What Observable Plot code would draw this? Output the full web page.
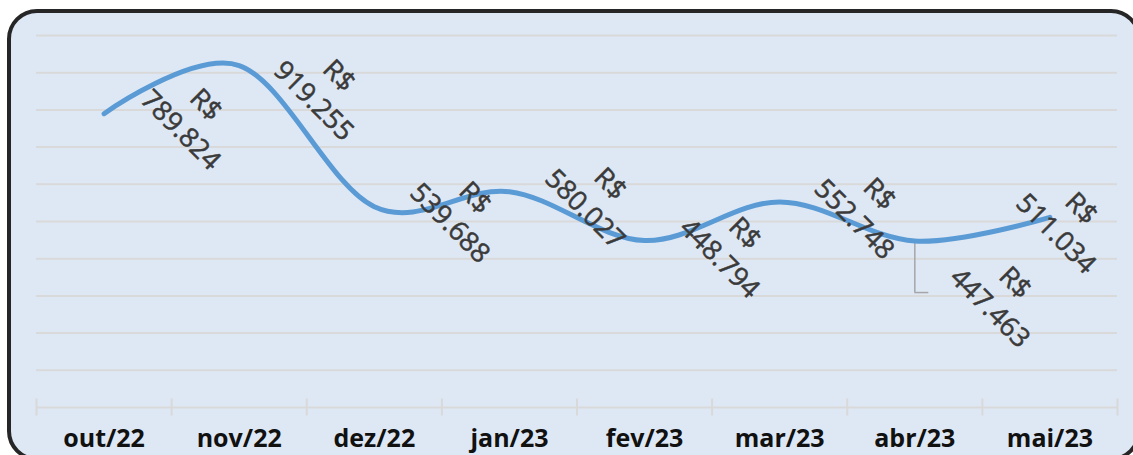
<!DOCTYPE html>
<html><head><meta charset="utf-8">
<script src="https://cdn.jsdelivr.net/npm/d3@7"></script>
<script src="https://cdn.jsdelivr.net/npm/@observablehq/plot@0.6"></script>
<style>
html,body{margin:0;padding:0;background:#fff;width:1133px;height:455px;overflow:hidden;}
#frame{position:absolute;left:7px;top:9px;width:1134px;height:452px;box-sizing:border-box;border:4.5px solid #262626;border-radius:30px;background:#dee8f5;}
#chart{position:absolute;left:0;top:0;}
</style></head><body>
<div id="frame"></div><div id="chart"></div>
<script>
// Data
const months = ["out/22","nov/22","dez/22","jan/23","fev/23","mar/23","abr/23","mai/23"];
const values = [789824, 919255, 539688, 580027, 448794, 552748, 447463, 511034];
const yTicks = [100000,200000,300000,400000,500000,600000,700000,800000,900000,1000000];

// Layout (label offsets in pixels from each point)
const labelOffsets = [[91,2],[89,21],[90,2],[90,3],[89.5,3.5],[89,3],[89.5,52.5],[20.5,2]];
const leaderIndex = 6;

const idx = months.map((d,i)=>i);
const boundaries = months.concat([null]).map((d,i)=>i-0.5);
const fmt = v => "R$\n" + d3.format(",")(v).replace(/,/g,".");

const labelMarks = idx.map(i => Plot.text([i], {
  x: d=>d, y: d=>values[d], text: d=>fmt(values[d]),
  rotate: 45, dx: labelOffsets[i][0], dy: labelOffsets[i][1],
  textAnchor: "middle", lineAnchor: "middle", lineHeight: 1.32,
  fontSize: 27, fill: "#3a3a3a", stroke: "#3a3a3a", strokeWidth: 0.5,
  fontFamily: "Open Sans"
}));

const chart = Plot.plot({
  width: 1133, height: 455,
  marginLeft: 36, marginRight: 16, marginTop: 35, marginBottom: 48,
  style: {background: "transparent", overflow: "visible"},
  x: {type: "linear", domain: [-0.5, 7.5], axis: null},
  y: {domain: [0, 1000000], axis: null},
  marks: [
    Plot.gridY(yTicks, {stroke: "#d9d9d9", strokeOpacity: 1, strokeWidth: 2}),
    Plot.ruleY([0], {stroke: "#d9d9d9", strokeWidth: 2}),
    Plot.ruleX(boundaries, {x: d=>d, y1: ()=>0, y2: ()=>0, insetTop: -8.5, insetBottom: -8.5, stroke: "#d9d9d9", strokeWidth: 2}),
    Plot.axisX(idx, {tickSize: 0, tickPadding: 22, tickFormat: i=>months[i], fontSize: 25, fontWeight: "bold", fill: "#111", fontFamily: "Open Sans", label: null}),
    Plot.ruleX([leaderIndex], {x: d=>d, y1: d=>values[d], y2: d=>values[d], insetTop: 2.5, insetBottom: -51.5, stroke: "#a6a6a6", strokeWidth: 1.5}),
    Plot.ruleY([leaderIndex], {y: d=>values[d], x1: d=>d, x2: d=>d, dy: 51.5, insetLeft: 0, insetRight: -14, stroke: "#a6a6a6", strokeWidth: 1.5}),
    Plot.line(values, {x: (d,i)=>i, y: d=>d, curve: "cardinal", stroke: "#5b9bd5", strokeWidth: 5, strokeLinecap: "round", strokeLinejoin: "round"}),
    ...labelMarks
  ]
});
document.getElementById("chart").appendChild(chart);
</script>
</body></html>
